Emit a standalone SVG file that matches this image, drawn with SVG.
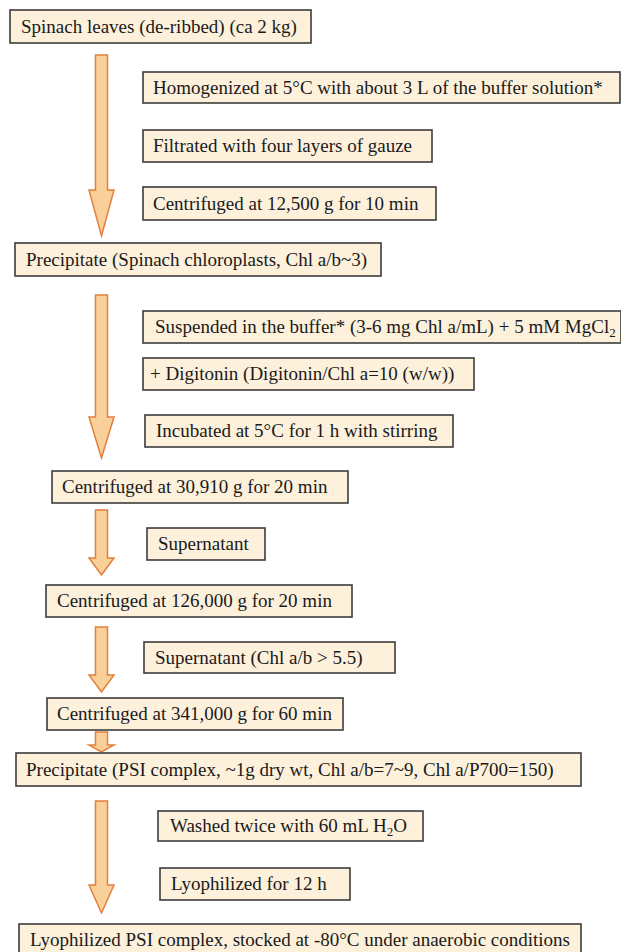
<svg xmlns="http://www.w3.org/2000/svg" width="621" height="952" viewBox="0 0 621 952">
<style>
.box rect{fill:#fdf1dc;stroke:#3c3c3c;stroke-width:1.6}
.box text{font-family:"Liberation Serif","Times New Roman",serif;font-size:19px;fill:#1a1a1a}
.arr{fill:#fad09a;stroke:#e27f3c;stroke-width:1.5;stroke-linejoin:miter}
</style>
<rect width="621" height="952" fill="#ffffff"/>
<g id="connectors">
<path class="arr" d="M95.5 55 H107.5 V190 H114 L101.5 236 L89 190 H95.5 Z"/>
<path class="arr" d="M95.5 295 H107.5 V417 H114 L101.5 458 L89 417 H95.5 Z"/>
<path class="arr" d="M95.5 510 H107.5 V558 H114 L101.5 575 L89 558 H95.5 Z"/>
<path class="arr" d="M95.5 627 H107.5 V675 H114 L101.5 692 L89 675 H95.5 Z"/>
<path class="arr" d="M95.5 732 H107.5 V745 H114 L101.5 752 L89 745 H95.5 Z"/>
<path class="arr" d="M95.5 801 H107.5 V885 H114 L101.5 913 L89 885 H95.5 Z"/>
</g>
<g id="n1" class="box"><rect x="10" y="10" width="301" height="33"/><text x="21" y="33">Spinach leaves (de-ribbed) (ca 2 kg)</text></g>
<g id="n2" class="box"><rect x="143" y="72" width="477" height="31"/><text x="153" y="94">Homogenized at 5°C with about 3 L of the buffer solution*</text></g>
<g id="n3" class="box"><rect x="143" y="130" width="289" height="32"/><text x="153" y="152">Filtrated with four layers of gauze</text></g>
<g id="n4" class="box"><rect x="143" y="187" width="293" height="33"/><text x="153" y="210">Centrifuged at 12,500 g for 10 min</text></g>
<g id="n5" class="box"><rect x="15" y="243" width="366" height="33"/><text x="26" y="266">Precipitate (Spinach chloroplasts, Chl a/b~3)</text></g>
<g id="n6" class="box"><rect x="143" y="311" width="478" height="32"/><text x="155" y="333">Suspended in the buffer* (3-6 mg Chl a/mL) + 5 mM MgCl<tspan font-size="13" dy="4">2</tspan></text></g>
<g id="n7" class="box"><rect x="143" y="358" width="331" height="32"/><text x="150" y="380">+ Digitonin (Digitonin/Chl a=10 (w/w))</text></g>
<g id="n8" class="box"><rect x="145" y="415" width="308" height="32"/><text x="156" y="437">Incubated at 5°C for 1 h with stirring</text></g>
<g id="n9" class="box"><rect x="52" y="471" width="296" height="32"/><text x="62" y="493">Centrifuged at 30,910 g for 20 min</text></g>
<g id="n10" class="box"><rect x="147" y="528" width="118" height="32"/><text x="158" y="550">Supernatant</text></g>
<g id="n11" class="box"><rect x="46" y="585" width="306" height="32"/><text x="57" y="607">Centrifuged at 126,000 g for 20 min</text></g>
<g id="n12" class="box"><rect x="144" y="642" width="251" height="31"/><text x="155" y="664">Supernatant (Chl a/b &gt; 5.5)</text></g>
<g id="n13" class="box"><rect x="47" y="698" width="296" height="32"/><text x="57" y="720">Centrifuged at 341,000 g for 60 min</text></g>
<g id="n14" class="box"><rect x="16" y="753" width="565" height="33"/><text x="26" y="776">Precipitate (PSI complex, ~1g dry wt, Chl a/b=7~9, Chl a/P700=150)</text></g>
<g id="n15" class="box"><rect x="158" y="811" width="265" height="30"/><text x="170" y="832">Washed twice with 60 mL H<tspan font-size="13" dy="4">2</tspan><tspan dy="-4">O</tspan></text></g>
<g id="n16" class="box"><rect x="160" y="868" width="190" height="32"/><text x="171" y="890">Lyophilized for 12 h</text></g>
<g id="n17" class="box"><rect x="19" y="924" width="562" height="32"/><text x="30" y="946">Lyophilized PSI complex, stocked at -80°C under anaerobic conditions</text></g>
</svg>
